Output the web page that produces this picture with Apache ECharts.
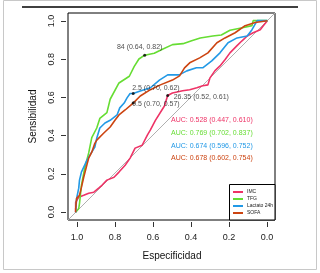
<!DOCTYPE html>
<html>
<head>
<meta charset="utf-8">
<script src="https://cdn.jsdelivr.net/npm/echarts@6/dist/echarts.min.js"></script>
<style>html,body{margin:0;padding:0;background:#fff}#c{width:320px;height:273px}</style>
</head>
<body>
<div id="c"></div>
<script>
// ---- data ----
const seriesNames = ['IMC', 'TFG', 'Lactato 24h', 'SOFA'];
const imcSpec  = [1,1,0.984,0.958,0.932,0.905,0.88,0.863,0.837,0.8,0.774,0.742,0.716,0.69,0.653,0.626,0.61,0.584,0.537,0.52,0.495,0.442,0.405,0.368,0.337,0.31,0.3,0.274,0.247,0.221,0.195,0.158,0.132,0.105,0.074,0.037,0.021,0];
const imcSens  = [0,0.052,0.079,0.089,0.1,0.105,0.126,0.141,0.168,0.183,0.21,0.246,0.283,0.335,0.35,0.403,0.43,0.48,0.555,0.61,0.623,0.634,0.64,0.65,0.66,0.665,0.70,0.738,0.764,0.796,0.832,0.87,0.895,0.92,0.937,0.953,0.974,1];
const tfgSpec  = [1,0.984,0.98,0.97,0.953,0.932,0.916,0.89,0.874,0.837,0.82,0.774,0.72,0.695,0.67,0.64,0.59,0.55,0.495,0.44,0.395,0.35,0.285,0.24,0.195,0.13,0.08,0.074,0];
const tfgSens  = [0,0.02,0.047,0.14,0.23,0.31,0.39,0.44,0.49,0.52,0.59,0.675,0.71,0.76,0.80,0.82,0.83,0.85,0.875,0.88,0.895,0.91,0.92,0.925,0.95,0.963,0.974,1,1];
const lacSpec  = [1,0.995,0.984,0.98,0.97,0.953,0.942,0.932,0.916,0.9,0.89,0.874,0.847,0.82,0.784,0.77,0.747,0.732,0.716,0.70,0.663,0.61,0.563,0.52,0.46,0.42,0.37,0.337,0.29,0.247,0.205,0.158,0.105,0.08,0.053,0];
const lacSens  = [0,0.073,0.126,0.168,0.21,0.246,0.27,0.288,0.314,0.34,0.387,0.44,0.466,0.48,0.508,0.545,0.57,0.597,0.62,0.62,0.633,0.65,0.69,0.717,0.717,0.738,0.754,0.754,0.79,0.832,0.885,0.91,0.92,0.953,1,1];
const sofaSpec = [1,1,0.995,0.98,0.97,0.958,0.942,0.932,0.916,0.9,0.89,0.853,0.82,0.795,0.774,0.742,0.70,0.663,0.61,0.558,0.495,0.458,0.432,0.405,0.353,0.31,0.263,0.221,0.168,0.116,0.063,0];
const sofaSens = [0,0.02,0.073,0.089,0.13,0.183,0.246,0.283,0.314,0.36,0.377,0.414,0.445,0.48,0.508,0.534,0.57,0.607,0.64,0.665,0.69,0.712,0.754,0.78,0.806,0.832,0.885,0.91,0.937,0.974,0.99,1];
const aucValue = [0.528, 0.769, 0.674, 0.678];
const aucLow   = [0.447, 0.702, 0.596, 0.602];
const aucHigh  = [0.610, 0.837, 0.752, 0.754];
const thrLabels = ['84', '2.5', '9.5', '26.35'];
const thrSpec   = [0.64, 0.70, 0.70, 0.52];
const thrSens   = [0.82, 0.62, 0.57, 0.61];
const tickMin = 0, tickMax = 1, tickStep = 0.2;

// ---- styles ----
const colors = ['#EE3366', '#66DD33', '#2299E6', '#CC4411'];
const FONT = 'Liberation Sans, Arial, sans-serif';
const thrLabelStyle = [
  {align: 'center', offset: [-5, -8]},
  {align: 'left', offset: [-1, -5]},
  {align: 'left', offset: [-1, 1]},
  {align: 'left', offset: [6, 2]}
];
const aucY = [120, 133, 146, 158];

const specs = [imcSpec, tfgSpec, lacSpec, sofaSpec];
const senss = [imcSens, tfgSens, lacSens, sofaSens];
const zip = (a, b) => a.map((v, i) => [v, b[i]]);

const series = [{
  type: 'line', silent: true, showSymbol: false, z: 1,
  data: [[1.04, -0.04], [-0.04, 1.04]],
  lineStyle: {color: '#B0B0B0', width: 1}
}];
seriesNames.forEach((n, i) => {
  series.push({
    name: n, type: 'line', showSymbol: false, z: 2 + i,
    data: zip(specs[i], senss[i]),
    lineStyle: {color: colors[i], width: 1.6},
    itemStyle: {color: colors[i]}
  });
});
series.push({
  type: 'scatter', symbol: 'circle', symbolSize: 3, z: 10,
  itemStyle: {color: '#000'},
  data: thrLabels.map((t, i) => ({
    value: [thrSpec[i], thrSens[i]],
    label: {
      show: true, position: 'inside', verticalAlign: 'middle',
      align: thrLabelStyle[i].align, offset: thrLabelStyle[i].offset,
      formatter: t + ' (' + thrSpec[i].toFixed(2) + ', ' + thrSens[i].toFixed(2) + ')',
      color: '#222', fontSize: 7, fontFamily: FONT
    }
  }))
});

const graphics = [
  {type: 'rect', shape: {x: 3.5, y: 0.5, width: 313, height: 269}, style: {fill: 'none', stroke: '#C8C8C8', lineWidth: 1}, z: 0},
  {type: 'line', shape: {x1: 22, y1: 7, x2: 298, y2: 7}, style: {stroke: '#000', lineWidth: 1.4}},
  {type: 'rect', shape: {x: 229.5, y: 184.5, width: 45.5, height: 35.5}, style: {fill: '#fff', stroke: '#000', lineWidth: 1}, z: 50}
];
aucValue.forEach((v, i) => {
  graphics.push({
    type: 'text', x: 171, y: aucY[i],
    style: {
      text: 'AUC: ' + v.toFixed(3) + ' (' + aucLow[i].toFixed(3) + ', ' + aucHigh[i].toFixed(3) + ')',
      fill: colors[i], font: '7px ' + FONT, textVerticalAlign: 'middle'
    }, z: 60
  });
});

const hiddenAxis = {show: false, axisLine: {show: false, onZero: false}};
const tickAxisCommon = {
  min: tickMin, max: tickMax, interval: tickStep,
  nameLocation: 'middle',
  nameTextStyle: {fontSize: 10, fontFamily: FONT, color: '#111'},
  axisLine: {show: false, onZero: false},
  splitLine: {show: false},
  axisTick: {show: true, length: 5, lineStyle: {color: '#333'}}
};

const chart = echarts.init(document.getElementById('c'), null, {renderer: 'canvas'});
chart.setOption({
  animation: false,
  backgroundColor: '#fff',
  grid: [
    {left: 68, top: 13, width: 207, height: 207, show: true, borderColor: '#000', borderWidth: 1, backgroundColor: 'transparent'},
    {left: 77, top: 21, width: 190, height: 191, show: false}
  ],
  xAxis: [
    Object.assign({type: 'value', inverse: true, min: -0.04, max: 1.04, gridIndex: 0}, hiddenAxis),
    Object.assign({type: 'value', inverse: true, gridIndex: 1, offset: 10, name: 'Especificidad', nameGap: 29,
      axisLabel: {margin: 11, fontSize: 9, fontFamily: FONT, color: '#222', formatter: v => v.toFixed(1)}}, tickAxisCommon)
  ],
  yAxis: [
    Object.assign({type: 'value', min: -0.04, max: 1.04, gridIndex: 0}, hiddenAxis),
    Object.assign({type: 'value', gridIndex: 1, offset: 11, name: 'Sensibilidad', nameGap: 28, nameRotate: 90,
      axisLabel: {margin: 10, rotate: 90, fontSize: 9, fontFamily: FONT, color: '#222', formatter: v => v.toFixed(1)}}, tickAxisCommon)
  ],
  legend: {
    data: seriesNames, orient: 'vertical', left: 233, top: 189, padding: 0,
    itemWidth: 10, itemHeight: 2, itemGap: 1, icon: 'rect', z: 60,
    textStyle: {fontSize: 5, lineHeight: 6, fontFamily: FONT, color: '#222', padding: [0, 0, 0, -1]}
  },
  graphic: graphics,
  series: series
});
</script>
</body>
</html>
